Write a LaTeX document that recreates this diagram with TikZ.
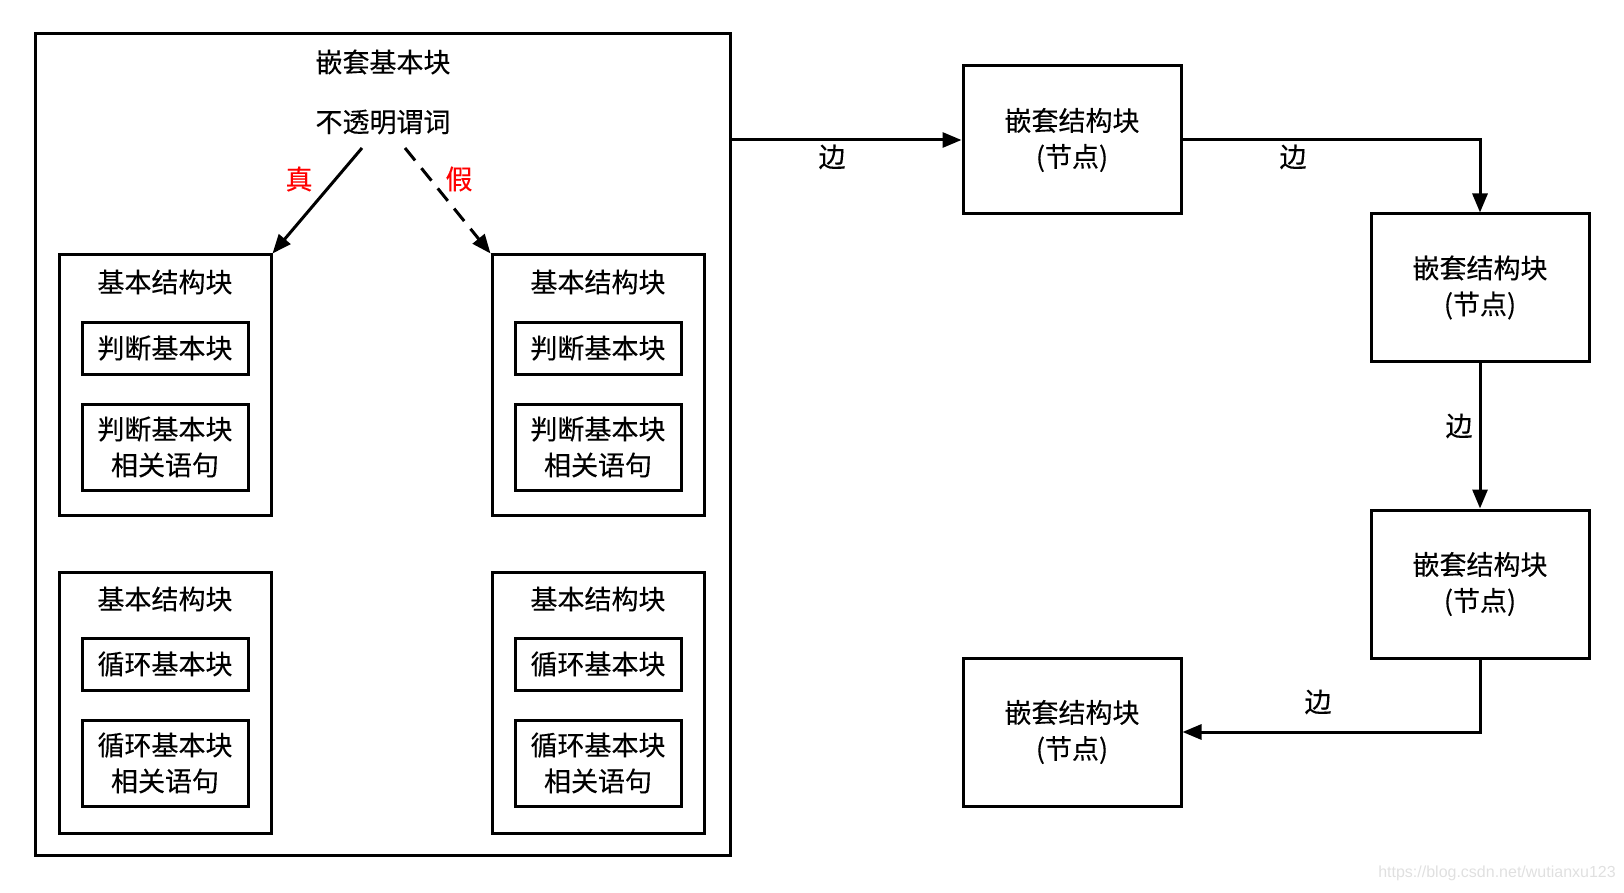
\documentclass[tikz,border=0pt]{standalone}
\usepackage{fontspec}
\setmainfont{Noto Sans CJK SC}
\newfontfamily\wmfont{Liberation Sans}
\newfontfamily\cjkmain{Noto Sans CJK SC}[FakeBold=0.2]
\usetikzlibrary{arrows.meta,calc}
\begin{document}
\begin{tikzpicture}[x=1pt,y=-1pt,
  every node/.style={font=\cjkmain\fontsize{27}{36}\selectfont, inner sep=0pt},
  box/.style={draw, line width=3pt, rectangle, align=center},
  edge/.style={line width=3pt, -{Triangle[length=19pt,width=15pt]}}]
\useasboundingbox (0,0) rectangle (1624,893);
% outer nested block
\node[box, minimum width=695pt, minimum height=821pt] (outer) at (382.5,444.5) {};
\node (otitle) at (383,62) {嵌套基本块};
\node (pred) at (383,122) {不透明谓词};
% four basic structure blocks
\node[box, minimum width=212pt, minimum height=260pt] (tl) at (165,385) {};
\node[box, minimum width=212pt, minimum height=260pt] (tr) at (598,385) {};
\node[box, minimum width=212pt, minimum height=261pt] (bl) at (165,702.5) {};
\node[box, minimum width=212pt, minimum height=261pt] (br) at (598,702.5) {};
\node (tlt) at (165,282) {基本结构块};
\node (trt) at (598,282) {基本结构块};
\node (blt) at (165,599) {基本结构块};
\node (brt) at (598,599) {基本结构块};
\node[box, minimum width=166pt, minimum height=52pt] (tl1) at (165,348) {判断基本块};
\node[box, minimum width=166pt, minimum height=86pt] (tl2) at (165,447) {判断基本块\\相关语句};
\node[box, minimum width=166pt, minimum height=52pt] (tr1) at (598,348) {判断基本块};
\node[box, minimum width=166pt, minimum height=86pt] (tr2) at (598,447) {判断基本块\\相关语句};
\node[box, minimum width=166pt, minimum height=52pt] (bl1) at (165,664) {循环基本块};
\node[box, minimum width=166pt, minimum height=86pt] (bl2) at (165,763) {循环基本块\\相关语句};
\node[box, minimum width=166pt, minimum height=52pt] (br1) at (598,664) {循环基本块};
\node[box, minimum width=166pt, minimum height=86pt] (br2) at (598,763) {循环基本块\\相关语句};
% true / false arrows
\coordinate (ts) at (362,148);
\coordinate (fs) at (405,148);
\draw[edge] (ts) -- (tl.north east);
\draw[edge, dash pattern=on 16pt off 10pt] (fs) -- (tr.north west);
\node[text=red] (tlab) at (299,179) {真};
\node[text=red] (flab) at (459,179) {假};
% right-hand nodes
\node[box, minimum width=218pt, minimum height=148pt] (n1) at (1072,140) {嵌套结构块\\(节点)};
\node[box, minimum width=218pt, minimum height=147pt] (n2) at (1480,287.5) {嵌套结构块\\(节点)};
\node[box, minimum width=218pt, minimum height=148pt] (n3) at (1480,584) {嵌套结构块\\(节点)};
\node[box, minimum width=218pt, minimum height=148pt] (n4) at (1072,732) {嵌套结构块\\(节点)};
% edges
\draw[edge] (outer.east |- n1.west) -- (n1.west);
\node (e1) at (832,157) {边};
\draw[edge] (n1.east) -| (n2.north);
\node (e2) at (1293,157) {边};
\draw[edge] (n2.south) -- (n3.north);
\node (e3) at (1459,426) {边};
\draw[edge] (n3.south) |- (n4.east);
\node (e4) at (1318,702) {边};
% watermark
\node[font=\wmfont\fontsize{16}{20}\selectfont, text=black!12] (wm) at (1497,873) {https://blog.csdn.net/wutianxu123};
\end{tikzpicture}
\end{document}
